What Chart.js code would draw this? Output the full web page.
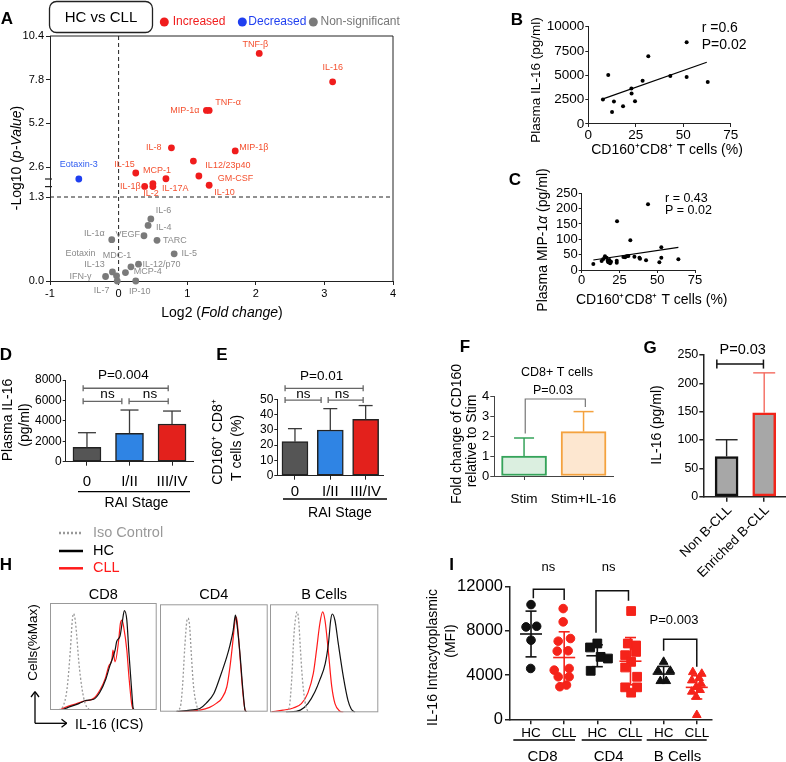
<!DOCTYPE html>
<html>
<head>
<meta charset="utf-8">
<title>IL-16 / CD160 figure</title>
<script src="https://cdn.jsdelivr.net/npm/chart.js@4.4.1/dist/chart.umd.min.js"></script>
<style>
  body { margin: 0; background: #fff; }
  #fig { position: relative; width: 786px; height: 762px; overflow: hidden; background: #fff; }
  #fig canvas { position: absolute; left: 0; top: 0; }
</style>
</head>
<body>
<div id="fig"></div>
<script>
// ---------------- data ----------------

// A: volcano plot, HC vs CLL
const cytokines = ['TNF-β','IL-16','MIP-1α','TNF-α','IL-8','MIP-1β','IL12/23p40','IL-15','MCP-1','GM-CSF','IL-10','IL-1β','IL-2','IL-17A',
  'Eotaxin-3',
  'IL-6','IL-4','VEGF','IL-1α','TARC','IL-5','Eotaxin','MDC-1','IL-12/p70','IL-13','MCP-4','IFN-γ','IL-7','IP-10'];
const log2FC = [2.05,3.12,1.28,1.32,0.77,1.70,1.09,0.25,0.69,1.17,1.32,0.38,0.50,0.50,
  -0.58,
  0.47,0.43,0.37,-0.10,0.56,0.81,-0.03,0.18,0.29,-0.09,0.10,-0.19,-0.02,0.25];
const negLog10P = [9.36,7.67,5.97,5.97,3.74,3.56,2.95,2.34,2.09,2.21,1.81,1.76,1.75,1.88,
  2.08,
  0.96,0.86,0.70,0.64,0.63,0.42,0.08,0.22,0.26,0.14,0.13,0.07,0.00,0.00];
const change = ['up','up','up','up','up','up','up','up','up','up','up','up','up','up',
  'down',
  'ns','ns','ns','ns','ns','ns','ns','ns','ns','ns','ns','ns','ns','ns'];
const volcanoYTicks = [0, 1.3, 2.6, 5.2, 7.8, 10.4];
const volcanoYTickText = ['0.0','1.3','2.6','5.2','7.8','10.4'];

// B: plasma IL-16 vs CD160+CD8+ T cells
const bCD160 = [7.7,10.5,12.5,13.5,18.3,22.7,22.8,24.6,28.6,31.6,43.2,51.8,51.8,62.9];
const bIL16  = [2517,5034,1241,2310,1828,3655,3138,2345,4448,6966,4931,8413,4828,4310];
const bFitX = [7.4, 62.4];
const bFitY = [2550, 6345];

// C: plasma MIP-1a vs CD160+CD8+ T cells
const cCD160 = [7.7,13.2,14.3,15.4,16.5,17.2,17.6,18.3,18.8,19.4,23.2,23.2,23.4,27.6,28.7,29.8,30.9,32.2,34.9,38.2,38.6,42.6,43.9,51.4,52.7,52.7,64];
const cMIP1a = [19.6,29,36,44.6,40,30.4,25,32.6,21.7,27,30.4,24,158.7,42.4,41.3,44.6,45.7,96.7,43.5,40.2,37,31.5,214,25,40.2,74,34.8];
const cFitX = [7.7, 64];
const cFitY = [32.6, 74];

// D, E: by RAI stage
const raiStages = ['0','I/II','III/IV'];
const dIL16 = [1400, 2775, 3690];
const dIL16Top = [2840, 5060, 4960];
const eCD160 = [22.3, 29.9, 36.9];
const eCD160Top = [30.8, 43.9, 45.9];

// F
const fGroups = ['Stim','Stim+IL-16'];
const fFold = [1.0, 2.22];
const fFoldTop = [1.9, 3.22];

// G
const gGroups = ['Non B-CLL','Enriched B-CLL'];
const gIL16 = [71, 148];
const gIL16Top = [100.5, 218.5];

// H: histograms (x = % of display range, y = % of max)
const hCD8IsoX = [8,12,16,19,21,22,23.5,25,27,30,33,37];
const hCD8IsoY = [0,3,20,55,85,90,85,70,45,20,6,0];
const hCD8HcX  = [11,16,27,34,41,47,52,56,61,62.5,65.6,68,69.7,72,74,76.5,78,80];
const hCD8HcY  = [0,2,6,9,10,17,28,41,56,64,69,84,93,84,53,19,1.5,0];
const hCD8CllX = [9,15.6,22,31,41,47,52,55,58,59,61,64,66,67.5,69,72,74,76.5,78];
const hCD8CllY = [0,3,5,8,11,19,30,41,47,56,45,62,81,84,78,56,31,6,0];
const hCD4IsoX = [15,19,21,23,25,26,27.5,29,31,34,37];
const hCD4IsoY = [0,5,25,60,85,87,80,55,25,6,0];
const hCD4HcX  = [15.5,28,37,43,50,56,62,65,68,70,71,74,77,79,80.5];
const hCD4HcY  = [0,1.5,3,8,17,33,51,62,76,90,85,57,20,1.5,0];
const hCD4CllX = [15.5,37,46,52.6,57,62,65,67.5,69.7,71,72.4,74.3,77,79,80.5];
const hCD4CllY = [0,1.5,4,8,12,23,42,64,85,88,76,51,17,1.5,0];
const hBIsoX = [15,18,20,22,24,25,26.5,28,30,33,36];
const hBIsoY = [0,6,30,70,90,93,85,60,30,6,0];
const hBCllX = [1.5,12,21.5,29,35,40,43,46,48.6,50.8,54,57,60,64.6,67.7];
const hBCllY = [0.5,2,4,8,18,36,58,82,93,85,55,24,8,1,0];
const hBHcX  = [15,28,35,41.5,46,51,54,56,57.5,60,63,67.7,72,75,78.5];
const hBHcY  = [0,2,8,19,30,45,64,85,91,85,64,33,11,3,0];

// I: IL-16 intracytoplasmic MFI
const iGroupLabels = ['HC','CLL','HC','CLL','HC','CLL'];
const iCD8HC  = [10380,8420,8360,7160,4600];
const iCD8HCJit = [0,0.17,-0.15,0,-0.01];
const iCD8CLL = [10020,8820,7070,7310,6170,6200,4450,4600,3850,3850,2950,3100];
const iCD8CLLJit = [-0.03,-0.03,-0.18,0.19,-0.21,0.12,-0.3,0.15,-0.18,0.15,-0.13,0.07];
const iCD4HC  = [6860,6500,5650,5500,4390];
const iCD4HCJit = [0,-0.22,0.1,0.32,-0.2];
const iCD4CLL = [9800,6860,6680,6100,5800,5200,4690,3850,2890,2890,2410];
const iCD4CLLJit = [0.02,-0.08,0.17,0.17,-0.16,0.02,-0.16,0.2,-0.16,0.2,0.02];
const iBHC  = [5200,4390,4390,3460,3460];
const iBHCJit = [0,0.2,-0.17,-0.1,0.08];
const iBCLL = [4270,4120,3730,3520,3220,2920,2500,2650,2050,390];
const iBCLLJit = [-0.12,0.15,0.07,-0.15,0.13,-0.02,-0.15,0.1,-0.02,0];
const iMean = [7720,5590,5750,5260,4090,2890];
const iSD   = [2070,2330,990,2140,700,1050];

// ---------------- helpers ----------------
const W = 786, H = 762;
const FONT = '"Liberation Sans", Arial, Helvetica, sans-serif';
Chart.defaults.font.family = FONT;
Chart.defaults.color = '#000';

const RED = '#f5231a', BLACK = '#111';

function line(ctx, x1, y1, x2, y2, color, w, dash) {
  ctx.save();
  ctx.strokeStyle = color; ctx.lineWidth = w || 1;
  if (dash) ctx.setLineDash(dash);
  ctx.beginPath(); ctx.moveTo(x1, y1); ctx.lineTo(x2, y2); ctx.stroke();
  ctx.restore();
}
function txt(ctx, s, x, y, size, o) {
  o = o || {};
  ctx.save();
  ctx.font = (o.bold ? 'bold ' : '') + (o.italic ? 'italic ' : '') + size + 'px ' + FONT;
  ctx.fillStyle = o.color || '#000';
  ctx.textAlign = o.align || 'center';
  ctx.textBaseline = 'middle';
  ctx.translate(x, y);
  if (o.rot) ctx.rotate(o.rot * Math.PI / 180);
  ctx.fillText(s, 0, 0);
  ctx.restore();
}
// text with italic parts, centred on (x, y)
function rich(ctx, parts, x, y, size, rot) {
  ctx.save();
  ctx.translate(x, y);
  if (rot) ctx.rotate(rot * Math.PI / 180);
  ctx.textBaseline = 'middle'; ctx.textAlign = 'left'; ctx.fillStyle = '#000';
  const fnt = p => (p[1] ? 'italic ' : '') + size + 'px ' + FONT;
  let w = 0;
  parts.forEach(p => { ctx.font = fnt(p); w += ctx.measureText(p[0]).width; });
  let cx = -w / 2;
  parts.forEach(p => { ctx.font = fnt(p); ctx.fillText(p[0], cx, 0); cx += ctx.measureText(p[0]).width; });
  ctx.restore();
}
function letter(ctx, s, x, y) { txt(ctx, s, x, y, 17, {bold: true}); }

function ax(o) {
  return {
    type: o.type || 'linear',
    min: o.min, max: o.max,
    offset: !!o.offset,
    afterBuildTicks: o.at ? (s => { s.ticks = o.at.map(v => ({value: v})); }) : undefined,
    grid: {drawOnChartArea: false, drawTicks: true, tickLength: o.tl || 4, color: o.c || '#222', lineWidth: o.lw || 1, offset: false},
    border: {display: true, color: o.c || '#222', width: o.lw || 1},
    ticks: {display: !o.hide, font: {size: o.fs || 12}, color: '#000', padding: o.pad == null ? 2 : o.pad,
            callback: o.cb, maxRotation: 0, minRotation: 0, autoSkip: false, stepSize: o.step}
  };
}

// every chart gets a full-page canvas; the plot box is pinned with layout padding
function mk(box, yw, xh, cfg, over, under) {
  const c = document.createElement('canvas');
  c.width = W; c.height = H;
  document.getElementById('fig').appendChild(c);
  const o = cfg.options;
  o.responsive = false; o.animation = false; o.events = [];
  o.layout = {padding: {left: box[0] - yw, top: box[1], right: W - box[2], bottom: H - box[3] - xh}};
  o.plugins = {legend: {display: false}, tooltip: {enabled: false}};
  o.scales.x.afterFit = s => { s.height = xh; s.paddingLeft = 0; s.paddingRight = 0; };
  o.scales.y.afterFit = s => { s.width = yw; s.paddingTop = 0; s.paddingBottom = 0; };
  cfg.plugins = [{
    id: 'extra',
    beforeDatasetsDraw: ch => { if (under) under(ch, ch.ctx, ch.scales.x, ch.scales.y); },
    afterDraw: ch => { if (over) over(ch, ch.ctx, ch.scales.x, ch.scales.y); }
  }];
  return new Chart(c, cfg);
}

function errorBars(ch, ctx, tops, colors, half, w) {
  const ys = ch.scales.y;
  ch.getDatasetMeta(0).data.forEach((b, i) => {
    const c = Array.isArray(colors) ? colors[i] : colors;
    const yt = ys.getPixelForValue(tops[i]);
    line(ctx, b.x, b.y, b.x, yt, c, w);
    line(ctx, b.x - half, yt, b.x + half, yt, c, w);
  });
}
function catX(xs, v) {
  const p0 = xs.getPixelForValue(0), p1 = xs.getPixelForValue(1);
  return p0 + v * (p1 - p0);
}
function capBracket(ctx, x1, x2, y, c, w, h) {
  line(ctx, x1, y, x2, y, c, w);
  line(ctx, x1, y - h, x1, y + h, c, w);
  line(ctx, x2, y - h, x2, y + h, c, w);
}
function legBracket(ctx, x1, x2, yTop, y1, y2, c, w) {
  ctx.save();
  ctx.strokeStyle = c; ctx.lineWidth = w;
  ctx.beginPath(); ctx.moveTo(x1, y1); ctx.lineTo(x1, yTop); ctx.lineTo(x2, yTop); ctx.lineTo(x2, y2); ctx.stroke();
  ctx.restore();
}

// ---------------- A: volcano ----------------
// broken y axis: 0-1.3 stretched, 1.3-2.6 break, 2.6-10.4 compressed
function tA(v) {
  if (v <= 1.3) return v * 84 / 1.3;
  if (v <= 2.6) return 84 + (v - 1.3) * 30 / 1.3;
  return 114 + (v - 2.6) * 131 / 7.8;
}
const dotColor = {up: '#f01c1c', down: '#1f3ff0', ns: '#7a7a7a'};
const labColor = {up: '#f4502f', down: '#2f5cf0', ns: '#8a8a8a'};
const labelAt = [
  [-4,-9,'center'],[0,-14.5,'center'],[-7,0,'right'],[6,-8,'left'],[-10,0,'right'],[4,-3,'left'],
  [12,4,'left'],[-1,-8,'right'],[-9,-8,'center'],[19,3,'left'],[5,7,'left'],[-4,0,'right'],
  [-2,6.6,'center'],[9,5.3,'left'],
  [0,-14,'center'],
  [5,-8,'left'],[8,1.6,'left'],[-4,-1.7,'right'],[-7,-6,'right'],[6,0,'left'],[7.4,0,'left'],
  [-36,-22,'center'],[-14,-11,'center'],[4,0,'left'],[-7.7,-7,'right'],[8.3,-0.6,'left'],[-14,0,'right'],[-15.6,10,'center'],[4,10.7,'center']
];

mk([50, 36, 393, 281], 40, 40, {
  type: 'scatter',
  data: {datasets: [{
    data: cytokines.map((n, i) => ({x: log2FC[i], y: tA(negLog10P[i])})),
    pointRadius: 3.4, pointBorderWidth: 0,
    pointBackgroundColor: change.map(c => dotColor[c]),
    clip: false
  }]},
  options: {scales: {
    x: ax({min: -1, max: 4, step: 1, fs: 11, pad: 2}),
    y: ax({min: 0, max: 245, fs: 11, pad: 2, at: volcanoYTicks.map(tA), cb: (v, i) => volcanoYTickText[i]})
  }}
}, (ch, ctx, xs, ys) => {
  cytokines.forEach((n, i) => {
    const px = xs.getPixelForValue(log2FC[i]), py = ys.getPixelForValue(tA(negLog10P[i]));
    const p = labelAt[i];
    txt(ctx, n, px + p[0], py + p[1], 9, {color: labColor[change[i]], align: p[2]});
  });
  rich(ctx, [['-Log10 (', 0], ['p-Value', 1], [')', 0]], 17, 158, 14, -90);
  rich(ctx, [['Log2 (', 0], ['Fold change', 1], [')', 0]], 222, 313, 14, 0);
  // header box and legend
  ctx.save();
  ctx.strokeStyle = '#222'; ctx.lineWidth = 1.3;
  ctx.beginPath(); ctx.roundRect(49.5, 1.5, 103, 31, 7); ctx.stroke();
  ctx.restore();
  txt(ctx, 'HC vs CLL', 101, 17.5, 15);
  const leg = [['Increased', 'up', 164.3, 172.7], ['Decreased', 'down', 242.3, 248.3], ['Non-significant', 'ns', 313.3, 320.5]];
  leg.forEach(l => {
    ctx.save(); ctx.fillStyle = dotColor[l[1]]; ctx.beginPath(); ctx.arc(l[2], 22, 4.5, 0, Math.PI * 2); ctx.fill(); ctx.restore();
    txt(ctx, l[0], l[3], 22, 12, {align: 'left', color: l[1] === 'ns' ? '#777' : dotColor[l[1]]});
  });
  letter(ctx, 'A', 7, 19);
}, (ch, ctx, xs, ys) => {
  const ca = ch.chartArea;
  line(ctx, ca.left, ca.top, ca.right, ca.top, '#222', 1);
  line(ctx, ca.right, ca.top, ca.right, ca.bottom, '#222', 1);
  const x0 = xs.getPixelForValue(0), y13 = ys.getPixelForValue(tA(1.3));
  line(ctx, x0, ca.top, x0, ca.bottom, '#222', 1, [4, 3]);
  line(ctx, ca.left, y13, ca.right, y13, '#222', 1, [4, 3]);
  // axis break marks
  [tA(1.75), tA(2.08)].forEach(t => {
    const y = ys.getPixelForValue(t);
    line(ctx, ca.left - 5, y, ca.left + 2, y, '#222', 1.2);
  });
});

// ---------------- B ----------------
mk([588.3, 26.7, 730.7, 124], 60, 40, {
  type: 'scatter',
  data: {datasets: [
    {data: bCD160.map((x, i) => ({x, y: bIL16[i]})), pointRadius: 2, pointBackgroundColor: '#000', pointBorderWidth: 0},
    {data: bFitX.map((x, i) => ({x, y: bFitY[i]})), showLine: true, pointRadius: 0, borderColor: '#000', borderWidth: 1.2}
  ]},
  options: {scales: {
    x: ax({min: 0, max: 75, step: 25, fs: 13.5, tl: 3, pad: 0}),
    y: ax({min: 0, max: 10000, step: 2500, fs: 13.5, tl: 3, pad: 1})
  }}
}, (ch, ctx) => {
  txt(ctx, 'r =0.6', 701.7, 28, 14, {align: 'left'});
  txt(ctx, 'P=0.02', 701.7, 45, 14, {align: 'left'});
  txt(ctx, 'Plasma IL-16 (pg/ml)', 536, 80, 13.5, {rot: -90});
  txt(ctx, 'CD160⁺CD8⁺ T cells (%)', 667, 150, 14);
  letter(ctx, 'B', 517, 20);
});

// ---------------- C ----------------
mk([581.7, 193.3, 695, 270], 50, 40, {
  type: 'scatter',
  data: {datasets: [
    {data: cCD160.map((x, i) => ({x, y: cMIP1a[i]})), pointRadius: 2, pointBackgroundColor: '#000', pointBorderWidth: 0},
    {data: cFitX.map((x, i) => ({x, y: cFitY[i]})), showLine: true, pointRadius: 0, borderColor: '#000', borderWidth: 1.2}
  ]},
  options: {scales: {
    x: ax({min: 0, max: 75, step: 25, fs: 13, tl: 3, pad: 0}),
    y: ax({min: 0, max: 250, step: 50, fs: 13, tl: 3, pad: 1})
  }}
}, (ch, ctx) => {
  txt(ctx, 'r = 0.43', 665, 198.5, 12.5, {align: 'left'});
  txt(ctx, 'P = 0.02', 665, 211, 12.5, {align: 'left'});
  rich(ctx, [['Plasma MIP-1', 0], ['α', 1], [' (pg/ml)', 0]], 543.3, 240, 14, -90);
  txt(ctx, 'CD160⁺CD8⁺ T cells (%)', 651.7, 300.5, 14);
  letter(ctx, 'C', 515, 180);
});

// ---------------- D ----------------
const stageColors = ['#555555', '#2f84e4', '#e3211c'];
const dBrackets = [[-0.09, 1.91, 7190], [-0.09, 0.82, 5910], [0.99, 1.91, 5910]];
mk([65.7, 380, 193.3, 461.7], 45, 30, {
  type: 'bar',
  data: {labels: raiStages, datasets: [{data: dIL16, backgroundColor: stageColors, borderColor: '#222', borderWidth: 1.5, borderSkipped: false, barThickness: 28}]},
  options: {scales: {
    x: ax({type: 'category', offset: true, fs: 15, tl: 4, pad: 7, cb: (v, i) => raiStages[i]}),
    y: ax({min: 0, max: 8000, step: 2000, fs: 12, tl: 3, pad: 1})
  }}
}, (ch, ctx, xs, ys) => {
  errorBars(ch, ctx, dIL16Top, '#3a3a3a', 9, 1.3);
  dBrackets.forEach(b => capBracket(ctx, catX(xs, b[0]), catX(xs, b[1]), ys.getPixelForValue(b[2]), '#666', 1.3, 3));
  txt(ctx, 'P=0.004', 123.3, 375, 13.5);
  txt(ctx, 'ns', 107.5, 394.5, 13.5);
  txt(ctx, 'ns', 150, 394.5, 13.5);
  line(ctx, 78, 491.7, 190, 491.7, '#000', 1.3);
  txt(ctx, 'RAI Stage', 136.5, 503.5, 14);
  txt(ctx, 'Plasma IL-16', 8.5, 420, 14, {rot: -90});
  txt(ctx, '(pg/ml)', 25, 425, 14, {rot: -90});
  letter(ctx, 'D', 6, 355);
});

// ---------------- E ----------------
const eBrackets = [[-0.28, 1.93, 57.2], [-0.28, 0.74, 49.5], [0.94, 1.93, 49.5]];
mk([277.3, 399.3, 383.3, 475.7], 35, 30, {
  type: 'bar',
  data: {labels: raiStages, datasets: [{data: eCD160, backgroundColor: stageColors, borderColor: '#222', borderWidth: 1.5, borderSkipped: false, barThickness: 26}]},
  options: {scales: {
    x: ax({type: 'category', offset: true, fs: 15, tl: 4, pad: 3, cb: (v, i) => raiStages[i]}),
    y: ax({min: 0, max: 50, step: 10, fs: 12, tl: 3, pad: 1})
  }}
}, (ch, ctx, xs, ys) => {
  errorBars(ch, ctx, eCD160Top, '#3a3a3a', 7, 1.3);
  eBrackets.forEach(b => capBracket(ctx, catX(xs, b[0]), catX(xs, b[1]), ys.getPixelForValue(b[2]), '#666', 1.3, 3));
  txt(ctx, 'P=0.01', 321.7, 376.7, 13.5);
  txt(ctx, 'ns', 303.3, 394, 13.5);
  txt(ctx, 'ns', 342, 394, 13.5);
  line(ctx, 283, 499, 387, 499, '#000', 1.3);
  txt(ctx, 'RAI Stage', 340, 513.3, 14);
  txt(ctx, 'CD160⁺ CD8⁺', 218.5, 442, 14, {rot: -90});
  txt(ctx, 'T cells (%)', 237, 448, 14, {rot: -90});
  letter(ctx, 'E', 222, 355);
});

// ---------------- F ----------------
const fBorder = ['#35a35a', '#f4a23e'];
mk([494.3, 396, 613.3, 476], 30, 30, {
  type: 'bar',
  data: {labels: fGroups, datasets: [{data: fFold, backgroundColor: ['#dbefe0', '#fde7d0'], borderColor: fBorder, borderWidth: 2, borderSkipped: false, barThickness: 45}]},
  options: {scales: {
    x: ax({type: 'category', offset: true, fs: 13.5, tl: 0, pad: 11, c: '#444', cb: (v, i) => fGroups[i]}),
    y: ax({min: 0, max: 4, step: 1, fs: 13, tl: 4, pad: 1, c: '#444'})
  }}
}, (ch, ctx, xs, ys) => {
  errorBars(ch, ctx, fFoldTop, fBorder, 10, 1.5);
  legBracket(ctx, catX(xs, 0.02), catX(xs, 1.03), ys.getPixelForValue(3.85), ys.getPixelForValue(2.13), ys.getPixelForValue(3.45), '#777', 1.2);
  txt(ctx, 'CD8+ T cells', 557, 372.7, 12.5);
  txt(ctx, 'P=0.03', 553, 390.5, 12.5);
  txt(ctx, 'Fold change of CD160', 457.3, 434, 14, {rot: -90});
  txt(ctx, 'relative to Stim', 471.7, 441, 14, {rot: -90});
  letter(ctx, 'F', 465, 347);
});

// ---------------- G ----------------
const gBorder = ['#111', '#f0251a'];
mk([703.3, 355, 786, 496.7], 35, 30, {
  type: 'bar',
  data: {datasets: [{data: gIL16.map((y, i) => ({x: i, y})), backgroundColor: '#a7a7a7', borderColor: gBorder, borderWidth: 2.5, borderSkipped: false, barThickness: 23}]},
  options: {scales: {
    x: ax({min: -0.62, max: 1.58, at: [0, 1], hide: true, tl: 5, lw: 1.5}),
    y: ax({min: 0, max: 250, step: 50, fs: 12.5, tl: 4, pad: 1, lw: 1.5})
  }}
}, (ch, ctx, xs, ys) => {
  errorBars(ch, ctx, gIL16Top, ['#222', '#f46a5e'], 11, 1.4);
  capBracket(ctx, xs.getPixelForValue(-0.26), xs.getPixelForValue(0.98), ys.getPixelForValue(234), '#111', 1.5, 4.5);
  txt(ctx, 'P=0.03', 742.7, 350, 14.5);
  gGroups.forEach((g, i) => txt(ctx, g, xs.getPixelForValue(i) + 3, 508, 13.5, {align: 'right', rot: -45}));
  txt(ctx, 'IL-16 (pg/ml)', 656.7, 425, 14, {rot: -90});
  letter(ctx, 'G', 650, 348);
});

// ---------------- H: histograms ----------------
function histSets(isoX, isoY, hcX, hcY, cllX, cllY) {
  const mkLine = (xs, ys, color, dash) => ({
    data: xs.map((x, i) => ({x, y: ys[i]})), showLine: true, pointRadius: 0,
    borderColor: color, borderWidth: dash ? 1.3 : 1.2, borderDash: dash, cubicInterpolationMode: 'monotone'
  });
  return [mkLine(isoX, isoY, '#9a9a9a', [2, 2]), mkLine(hcX, hcY, '#111'), mkLine(cllX, cllY, '#ff1a1a')];
}
const hPanels = [
  {box: [50, 603, 156.7, 710], title: 'CD8', sets: histSets(hCD8IsoX, hCD8IsoY, hCD8HcX, hCD8HcY, hCD8CllX, hCD8CllY)},
  {box: [160, 604.3, 267.7, 711.7], title: 'CD4', sets: histSets(hCD4IsoX, hCD4IsoY, hCD4HcX, hCD4HcY, hCD4CllX, hCD4CllY)},
  {box: [270, 604.3, 378.3, 712.3], title: 'B Cells', sets: histSets(hBIsoX, hBIsoY, hBHcX, hBHcY, hBCllX, hBCllY)}
];
hPanels.forEach((p, k) => {
  mk(p.box, 0, 0, {
    type: 'scatter',
    data: {datasets: p.sets},
    options: {scales: {
      x: {type: 'linear', min: 0, max: 100, display: false},
      y: {type: 'linear', min: 0, max: 100, display: false}
    }}
  }, (ch, ctx) => {
    const ca = ch.chartArea;
    ctx.save(); ctx.strokeStyle = '#999'; ctx.lineWidth = 1;
    ctx.strokeRect(ca.left + 0.5, ca.top + 0.5, ca.right - ca.left - 1, ca.bottom - ca.top - 1);
    ctx.restore();
    txt(ctx, p.title, (ca.left + ca.right) / 2, 595, 14.5);
    if (k === 0) {
      // legend
      line(ctx, 59, 533, 83, 533, '#999', 2.5, [2, 2]);
      txt(ctx, 'Iso Control', 93, 533, 14.5, {align: 'left', color: '#999'});
      line(ctx, 59, 551, 83, 551, '#000', 2.5);
      txt(ctx, 'HC', 93, 551, 14.5, {align: 'left'});
      line(ctx, 59, 568.3, 83, 568.3, '#ff1a1a', 2.5);
      txt(ctx, 'CLL', 93, 568.3, 14.5, {align: 'left', color: '#ff1a1a'});
      letter(ctx, 'H', 6, 565);
      // axis arrows
      line(ctx, 35, 723.3, 35, 691.7, '#000', 1.3);
      line(ctx, 31, 697, 35, 691.7, '#000', 1.3);
      line(ctx, 39, 697, 35, 691.7, '#000', 1.3);
      line(ctx, 35, 723.3, 66.7, 723.3, '#000', 1.3);
      line(ctx, 61.5, 719.3, 66.7, 723.3, '#000', 1.3);
      line(ctx, 61.5, 727.3, 66.7, 723.3, '#000', 1.3);
      txt(ctx, 'Cells(%Max)', 33.3, 642.5, 13.5, {rot: -90});
      txt(ctx, 'IL-16 (ICS)', 75, 725, 14, {align: 'left'});
    }
  });
});

// ---------------- I ----------------
const iSets = [
  [iCD8HC, iCD8HCJit, 0, 'circle', BLACK, 4.3], [iCD8CLL, iCD8CLLJit, 1, 'circle', RED, 4.3],
  [iCD4HC, iCD4HCJit, 2, 'rect', BLACK, 6.2], [iCD4CLL, iCD4CLLJit, 3, 'rect', RED, 6.2],
  [iBHC, iBHCJit, 4, 'triangle', BLACK, 5], [iBCLL, iBCLLJit, 5, 'triangle', RED, 5]
];
const iColors = [BLACK, RED, BLACK, RED, BLACK, RED];
const iBrackets = [[0.07, 1.0, 11765, 10950, 10800], [1.96, 2.94, 11640, 7840, 10730], [4.0, 5.0, 7240, 6210, 4760]];
mk([510, 586.7, 711.7, 719.3], 60, 30, {
  type: 'scatter',
  data: {datasets: iSets.map(s => ({
    data: s[0].map((v, i) => ({x: s[2] + s[1][i], y: v})),
    pointStyle: s[3], pointRadius: s[5], pointBackgroundColor: s[4], pointBorderColor: s[4], pointBorderWidth: 1
  }))},
  options: {scales: {
    x: ax({min: -0.634, max: 5.45, at: [0, 1, 2, 3, 4, 5], cb: (v, i) => iGroupLabels[i], fs: 13.5, tl: 5, pad: 1, lw: 1.5}),
    y: ax({min: 0, max: 12000, step: 4000, fs: 16.5, tl: 5, pad: 2, lw: 1.5})
  }}
}, (ch, ctx, xs, ys) => {
  iMean.forEach((m, i) => {
    const x = xs.getPixelForValue(i), c = iColors[i];
    const yt = ys.getPixelForValue(m + iSD[i]), yb = ys.getPixelForValue(m - iSD[i]), ym = ys.getPixelForValue(m);
    line(ctx, x, yt, x, yb, c, 1.6);
    line(ctx, x - 5.5, yt, x + 5.5, yt, c, 1.6);
    line(ctx, x - 5.5, yb, x + 5.5, yb, c, 1.6);
    line(ctx, x - 11, ym, x + 11, ym, c, 1.6);
  });
  iBrackets.forEach(b => legBracket(ctx, xs.getPixelForValue(b[0]), xs.getPixelForValue(b[1]),
    ys.getPixelForValue(b[2]), ys.getPixelForValue(b[3]), ys.getPixelForValue(b[4]), '#111', 1.5));
  txt(ctx, 'ns', 548.3, 567.3, 13);
  txt(ctx, 'ns', 608.7, 567.3, 13);
  txt(ctx, 'P=0.003', 674, 620, 13);
  [[513.3, 575, 542.5, 'CD8'], [581.7, 641.7, 608.7, 'CD4'], [646.7, 706.7, 677.5, 'B Cells']].forEach(g => {
    line(ctx, g[0], 740, g[1], 740, '#000', 1.5);
    txt(ctx, g[3], g[2], 756.5, 15);
  });
  txt(ctx, 'IL-16 Intracytoplasmic', 433.3, 657.5, 14, {rot: -90});
  txt(ctx, '(MFI)', 450.7, 641, 14, {rot: -90});
  letter(ctx, 'I', 451.7, 565);
});
</script>
</body>
</html>
